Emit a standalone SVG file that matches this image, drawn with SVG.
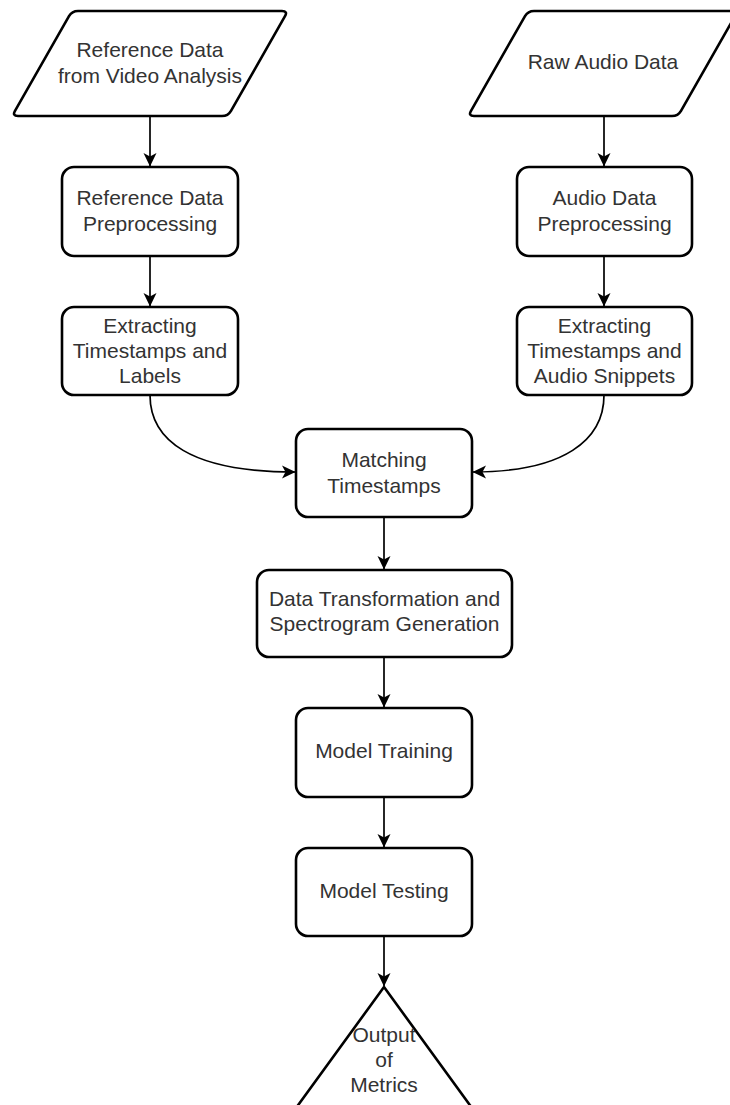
<svg xmlns="http://www.w3.org/2000/svg" width="730" height="1105" viewBox="0 0 730 1105">
<defs>
<marker id="arr" markerUnits="userSpaceOnUse" markerWidth="14" markerHeight="14" viewBox="0 0 14 14" refX="13" refY="7" orient="auto">
<path d="M0,0.5 L13.5,7 L0,13.5 L3.5,7 Z" fill="#000"/>
</marker>
</defs>
<style>
.shape{fill:#fff;stroke:#000;stroke-width:2.6;stroke-linejoin:round}
.lbl{font-family:"Liberation Sans",Arial,Helvetica,sans-serif;font-size:21px;fill:#333;text-anchor:middle}
.edge{fill:none;stroke:#000;stroke-width:1.7;marker-end:url(#arr)}
</style>
<rect width="730" height="1105" fill="#fff"/>
<g id="connectors">
<path class="edge" d="M150,117 L150,166"/>
<path class="edge" d="M604,117 L604,166"/>
<path class="edge" d="M150,256 L150,306"/>
<path class="edge" d="M604,256 L604,306"/>
<path class="edge" d="M150,395 C150,440 190,472 295,472"/>
<path class="edge" d="M604,395 C604,440 564,472 473,472"/>
<path class="edge" d="M384,517 L384,569"/>
<path class="edge" d="M384,657 L384,707"/>
<path class="edge" d="M384,797 L384,847"/>
<path class="edge" d="M384,936 L384,986"/>
</g>
<g id="ref-data">
<path class="shape" d="M78,11 L282,11 Q288,11 285,16.2 L231,110.8 Q228,116 222,116 L18,116 Q12,116 15,110.8 L69,16.2 Q72,11 78,11 Z"/>
<text class="lbl" x="150" y="57">Reference Data</text>
<text class="lbl" x="150" y="83">from Video Analysis</text>
</g>
<g id="raw-audio">
<path class="shape" d="M534,11 L732,11 Q738,11 735,16.2 L681,110.8 Q678,116 672,116 L474,116 Q468,116 471,110.8 L525,16.2 Q528,11 534,11 Z"/>
<text class="lbl" x="603" y="69">Raw Audio Data</text>
</g>
<g id="ref-pre">
<rect class="shape" x="62" y="167" width="176" height="89" rx="12"/>
<text class="lbl" x="150" y="205">Reference Data</text>
<text class="lbl" x="150" y="231">Preprocessing</text>
</g>
<g id="ref-extract">
<rect class="shape" x="62" y="307" width="176" height="88" rx="12"/>
<text class="lbl" x="150" y="333">Extracting</text>
<text class="lbl" x="150" y="358">Timestamps and</text>
<text class="lbl" x="150" y="383">Labels</text>
</g>
<g id="audio-pre">
<rect class="shape" x="517" y="167" width="175" height="89" rx="12"/>
<text class="lbl" x="604.5" y="205">Audio Data</text>
<text class="lbl" x="604.5" y="231">Preprocessing</text>
</g>
<g id="audio-extract">
<rect class="shape" x="517" y="307" width="175" height="88" rx="12"/>
<text class="lbl" x="604.5" y="333">Extracting</text>
<text class="lbl" x="604.5" y="358">Timestamps and</text>
<text class="lbl" x="604.5" y="383">Audio Snippets</text>
</g>
<g id="matching">
<rect class="shape" x="296" y="429" width="176" height="88" rx="12"/>
<text class="lbl" x="384" y="467">Matching</text>
<text class="lbl" x="384" y="493">Timestamps</text>
</g>
<g id="transform">
<rect class="shape" x="257" y="570" width="255" height="87" rx="12"/>
<text class="lbl" x="384.5" y="606">Data Transformation and</text>
<text class="lbl" x="384.5" y="631">Spectrogram Generation</text>
</g>
<g id="training">
<rect class="shape" x="296" y="708" width="176" height="89" rx="12"/>
<text class="lbl" x="384" y="758">Model Training</text>
</g>
<g id="testing">
<rect class="shape" x="296" y="848" width="176" height="88" rx="12"/>
<text class="lbl" x="384" y="898">Model Testing</text>
</g>
<g id="output">
<path class="shape" d="M384,987 L472,1108 L296,1108 Z"/>
<text class="lbl" x="384" y="1042">Output</text>
<text class="lbl" x="384" y="1067">of</text>
<text class="lbl" x="384" y="1092">Metrics</text>
</g>
</svg>
